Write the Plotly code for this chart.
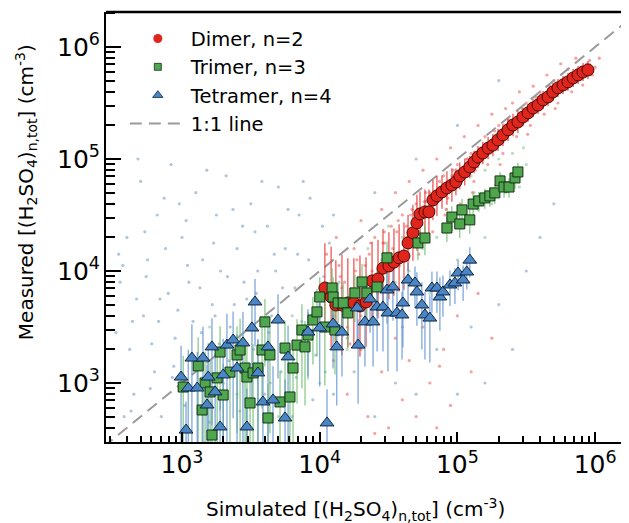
import numpy as np
import plotly.graph_objects as go

# ---------------- data ----------------
dimer_x = [1.09e4,1.21e4,1.31e4,1.45e4,1.60e4,1.77e4,1.96e4,2.17e4,2.40e4,2.65e4,
           2.88e4,3.18e4,3.46e4,3.77e4,4.09e4,4.38e4,4.75e4,5.08e4,5.35e4,5.81e4,
           6.21e4,6.64e4,7.10e4,7.73e4,8.39e4,9.12e4,9.75e4,1.04e5,1.13e5,1.23e5,
           1.32e5,1.41e5,1.53e5,1.67e5,1.81e5,1.97e5,2.14e5,2.33e5,2.53e5,2.75e5,
           2.99e5,3.26e5,3.54e5,3.85e5,4.19e5,4.55e5,4.94e5,5.37e5,5.85e5,6.35e5,
           6.92e5,7.52e5,8.17e5,8.87e5]
dimer_y = [7.05e3,5.86e3,4.97e3,4.97e3,5.18e3,5.18e3,4.87e3,5.29e3,8.15e3,8.49e3,
           1.06e4,1.11e4,1.20e4,1.31e4,1.36e4,1.78e4,2.19e4,2.69e4,3.23e4,3.37e4,
           3.37e4,4.31e4,4.68e4,5.08e4,5.51e4,5.86e4,6.24e4,7.06e4,7.66e4,8.49e4,
           9.40e4,1.04e5,1.13e5,1.25e5,1.33e5,1.48e5,1.64e5,1.82e5,2.01e5,2.14e5,
           2.37e5,2.58e5,2.85e5,3.03e5,3.37e5,3.58e5,3.97e5,4.31e5,4.58e5,4.88e5,
           5.29e5,5.62e5,5.98e5,6.24e5]
# uncertainty of dimer points, in decades (symmetric in log space)
dimer_err_dex = [0.40,0.45,0.40,0.45,0.40,0.40,0.45,0.40,0.35,0.35,
                 0.35,0.30,0.30,0.30,0.30,0.25,0.25,0.25,0.20,0.20,
                 0.20,0.18,0.18,0.15,0.15,0.15,0.12,0.12,0.12,0.10,
                 0.10,0.10,0.10,0.10,0.10,0.10,0.10,0.10,0.10,0.10,
                 0.08,0.08,0.08,0.08,0.08,0.08,0.08,0.08,0.08,0.08,
                 0.08,0.08,0.08,0.08]

trimer_x = [1.02e3,1.31e3,1.40e3,1.47e3,1.60e3,1.65e3,1.80e3,1.89e3,1.99e3,2.23e3,
            2.51e3,2.64e3,2.87e3,2.96e3,3.12e3,3.28e3,3.56e3,3.81e3,4.00e3,4.21e3,
            4.35e3,5.15e3,5.60e3,6.08e3,6.40e3,6.84e3,7.43e3,7.82e3,8.22e3,8.93e3,
            9.55e3,1.00e4,1.09e4,1.23e4,1.25e4,1.29e4,1.36e4,1.48e4,1.60e4,1.80e4,
            2.03e4,2.20e4,2.61e4,3.08e4,5.17e4,5.81e4,8.39e4,9.12e4,1.04e5,1.08e5,
            1.23e5,1.30e5,1.43e5,1.58e5,1.72e5,1.87e5,2.04e5,2.18e5,2.37e5,2.62e5,
            2.75e5]
trimer_y = [920,1.42e3,574,1.00e3,832,343,1.11e3,1.89e3,781,1.25e3,
            1.78e3,1.97e3,1.36e3,1.13e3,663,1.23e3,1.36e3,1.97e3,3.51e3,487,
            1.78e3,677,2.05e3,750,1.36e3,2.18e3,2.97e3,2.10e3,2.68e3,3.65e3,
            4.31e3,5.86e3,3.16e3,7.05e3,5.86e3,2.97e3,5.18e3,5.18e3,4.22e3,6.37e3,
            7.98e3,6.37e3,7.20e3,1.31e4,1.78e4,1.97e4,2.42e4,3.03e4,2.63e4,3.51e4,
            2.86e4,3.96e4,4.22e4,4.49e4,4.68e4,4.98e4,6.37e4,5.62e4,5.62e4,6.77e4,
            7.66e4]
# relative (linear) uncertainty of trimer points
trimer_rel_err = [0.9,0.8,1.0,0.9,0.9,1.0,0.8,0.7,0.9,0.8,
                  0.8,0.9,0.8,0.9,1.0,0.8,0.8,0.7,0.6,1.0,
                  0.8,0.9,0.7,0.9,0.8,0.7,0.7,0.7,0.6,0.6,
                  0.6,0.5,0.7,0.5,0.5,0.6,0.5,0.5,0.5,0.45,
                  0.45,0.45,0.45,0.4,0.3,0.3,0.25,0.25,0.25,0.25,
                  0.25,0.25,0.2,0.2,0.2,0.2,0.2,0.2,0.2,0.2,
                  0.2]

tetramer_x = [984,1.07e3,1.11e3,1.18e3,1.29e3,1.42e3,1.52e3,1.55e3,1.65e3,1.74e3,
              1.89e3,1.99e3,2.12e3,2.35e3,2.51e3,2.77e3,2.96e3,3.22e3,3.39e3,3.56e3,
              3.87e3,4.21e3,4.58e3,4.98e3,5.60e3,5.89e3,8.22e3,1.00e4,1.13e4,1.25e4,
              1.33e4,1.45e4,1.87e4,1.90e4,2.13e4,2.32e4,2.44e4,2.61e4,2.88e4,3.08e4,
              3.13e4,3.40e4,3.64e4,3.96e4,4.02e4,4.38e4,4.92e4,5.08e4,5.52e4,5.81e4,
              6.31e4,6.53e4,7.10e4,7.46e4,7.85e4,8.83e4,9.59e4,1.01e5,1.10e5,1.17e5,
              1.23e5]
tetramer_y = [1.13e3,380,902,1.67e3,902,1.67e3,636,1.13e3,2.10e3,832,
              405,1.18e3,2.18e3,2.42e3,1.36e3,2.28e3,405,3.10e3,5.29e3,1.23e3,
              677,2.10e3,705,3.65e3,487,1.71e3,2.85e3,3.10e3,440,3.37e3,
              2.10e3,2.85e3,4.68e3,2.18e3,3.51e3,5.62e3,3.51e3,4.77e3,4.77e3,6.77e3,
              4.22e3,7.20e3,4.22e3,4.05e3,5.18e3,8.31e3,7.82e3,6.50e3,4.97e3,4.05e3,
              3.80e3,7.05e3,7.05e3,5.86e3,6.50e3,7.50e3,7.82e3,9.60e3,8.31e3,9.80e3,
              1.25e4]
tetramer_rel_err = [0.9,0.8,1.2,1.0,1.1,0.9,1.3,1.0,0.8,1.2,
                    1.0,1.1,0.9,0.8,1.0,0.9,1.2,0.8,0.6,1.0,
                    1.1,0.9,1.0,0.7,1.2,0.9,0.6,0.7,1.0,0.6,
                    0.7,0.6,0.5,0.7,0.6,0.5,0.6,0.6,0.6,0.5,
                    0.7,0.5,0.7,0.6,0.6,0.4,0.4,0.5,0.6,0.6,
                    0.6,0.4,0.4,0.5,0.4,0.35,0.35,0.3,0.35,0.3,
                    0.3]

one_to_one = [1e2, 1e7]

# faint raw observations (log10 of concentration)
raw_dimer_log_x = [4.05,4.10,4.12,4.18,4.20,4.25,4.28,4.30,4.35,4.38,4.40,4.42,4.45,4.48,4.50,
                   4.52,4.55,4.58,4.60,4.62,4.65,4.68,4.70,4.72,4.75,4.78,4.80,4.82,4.85,4.88,
                   4.90,4.92,4.95,4.98,5.00,5.02,5.05,5.08,5.10,5.12,5.15,5.18,5.20,5.22,5.25,
                   5.28,5.30,5.33,5.35,5.38,5.40,5.43,5.45,5.48,5.50,5.53,5.55,5.58,5.60,5.63,
                   5.65,5.68,5.70,5.73,5.75,5.78,5.80,5.83,5.86,5.90,5.94,5.98,
                   4.10,4.20,4.30,4.35,4.45,4.50,4.55,4.60,4.65,4.70,4.75,4.80,4.90,4.95,5.00,
                   5.10,5.15,5.25,4.40,4.85,4.15,4.33,4.47,4.63,4.77,4.93,5.07,5.23,5.37,5.52,
                   5.67,5.82,4.22,4.57,4.87,
                   4.07,4.14,4.23,4.27,4.32,4.37,4.43,4.47,4.53,4.57,4.63,4.67,4.73,4.77,4.83,
                   4.87,4.93,4.97,5.03,5.07,5.13,5.17,5.23,5.27,5.33,5.37,5.43,5.47,5.53,5.57,
                   5.63,5.67,5.73,5.77,5.83,5.87,5.92,5.96,6.00,6.03,
                   4.16,4.26,4.36,4.46,4.56,4.66,4.76,4.86,4.96,5.06,5.16,5.26,5.36,5.46,5.56,
                   5.66,5.76,5.86,5.96,4.31,4.51,4.71,4.91,5.11,5.31,5.51,5.71,5.91]
raw_dimer_log_y = [4.15,3.60,4.30,3.90,3.50,4.20,3.75,4.45,3.55,4.00,4.30,3.80,4.55,4.15,3.85,
                   4.40,4.70,4.05,4.50,4.25,4.80,4.35,4.60,4.15,4.90,4.50,4.70,4.35,5.00,4.65,
                   4.85,4.55,5.10,4.75,4.95,4.60,5.20,4.85,5.05,4.80,5.30,5.00,5.20,4.95,5.40,
                   5.15,5.30,5.05,5.45,5.25,5.50,5.20,5.60,5.35,5.50,5.30,5.65,5.45,5.60,5.40,
                   5.75,5.55,5.70,5.50,5.85,5.65,5.80,5.60,5.90,5.72,5.85,5.75,
                   3.20,2.90,3.30,2.70,3.10,2.60,3.40,2.85,3.20,2.70,3.50,3.00,3.30,2.80,3.60,
                   3.10,3.80,3.40,2.55,2.60,3.95,4.05,4.25,4.40,4.62,4.80,5.00,5.10,5.32,5.40,
                   5.62,5.70,3.35,3.65,3.15,
                   3.75,4.05,3.65,4.10,3.90,4.25,4.00,4.35,4.20,4.45,4.30,4.55,4.45,4.70,4.55,
                   4.80,4.65,4.90,4.80,5.00,4.90,5.10,5.05,5.25,5.15,5.35,5.30,5.45,5.40,5.55,
                   5.50,5.65,5.60,5.72,5.70,5.80,5.78,5.88,5.82,5.90,
                   3.85,4.00,4.15,4.25,4.35,4.50,4.62,4.72,4.85,4.95,5.08,5.18,5.28,5.38,5.48,
                   5.58,5.68,5.76,5.84,3.70,4.05,4.28,4.50,4.70,4.95,5.22,5.45,5.66]
raw_trimer_log_x = [4.30,4.35,4.40,4.45,4.50,4.55,4.60,4.65,4.70,4.75,4.80,4.85,4.90,4.95,5.00,
                    5.05,5.10,5.15,5.20,5.25,5.30,5.35,5.40,5.45,5.50,4.60,4.80,5.00,5.20,4.20,
                    3.60,3.80,3.40,3.70,4.00,3.20,4.52,4.72,4.92,5.12,5.32,5.48]
raw_trimer_log_y = [3.90,4.20,3.70,4.10,4.40,3.90,4.30,4.00,4.50,4.20,4.60,4.30,4.70,4.40,4.75,
                    4.45,4.85,4.55,4.90,4.60,5.00,4.70,5.05,4.75,4.95,3.60,3.80,4.10,4.30,3.30,
                    3.20,3.60,2.90,2.70,3.00,3.50,4.15,4.35,4.55,4.70,4.85,5.10]
raw_tetramer_log_x = [2.50,2.55,2.60,2.62,2.65,2.70,2.72,2.75,2.80,2.82,2.85,2.90,2.92,2.95,3.00,
                      3.02,3.05,3.10,3.12,3.15,3.20,3.22,3.25,3.30,3.32,3.35,3.40,3.42,3.45,3.50,
                      3.52,3.55,3.60,3.62,3.65,3.70,3.72,3.75,3.80,3.82,3.85,3.90,3.92,3.95,4.00,
                      4.02,2.58,2.68,2.88,3.08,3.28,3.48,3.68,3.88,2.78,2.98,3.18,3.38,3.58,3.78,
                      4.10,4.25,4.40,4.55,4.70,4.85,5.00,5.10,5.20,5.30,5.40,5.50,5.60,5.70,4.30,
                      4.60,5.00,5.30,4.70,4.40,4.10,
                      2.52,2.57,2.63,2.67,2.73,2.77,2.83,2.87,2.93,2.97,3.03,3.07,3.13,3.17,3.23,
                      3.27,3.33,3.37,3.43,3.47,3.53,3.57,3.63,3.67,3.73,3.77,3.83,3.87,3.93,3.97,
                      4.03,4.07,2.54,2.64,2.74,2.84,2.94,3.04,3.14,3.24,3.34,3.44,3.54,3.64,3.74,
                      3.84,3.94,4.04,4.14,4.20]
raw_tetramer_log_y = [4.60,3.90,4.30,3.30,2.90,4.80,3.60,4.10,3.10,4.50,2.70,3.80,4.95,3.40,4.30,
                      2.80,3.90,4.70,3.20,4.10,2.65,3.70,4.50,3.00,4.85,3.50,4.20,2.75,3.90,4.60,
                      3.30,4.00,2.90,4.40,3.60,4.75,3.10,4.20,2.70,3.85,4.50,3.40,4.10,2.85,3.70,
                      4.40,2.70,5.00,4.20,3.55,4.00,2.60,4.00,4.80,3.35,4.60,4.90,3.70,4.80,3.30,
                      2.90,3.10,2.70,3.00,2.90,3.30,2.90,3.50,3.00,3.70,3.30,4.00,4.30,4.60,3.60,
                      3.50,5.30,5.70,5.00,4.70,4.50,
                      3.45,4.05,2.75,3.75,4.35,2.95,3.55,4.65,3.05,3.65,4.45,3.25,3.85,2.72,4.25,
                      3.35,3.95,4.55,3.15,3.75,4.35,2.85,3.45,4.15,3.85,4.55,3.05,3.55,4.65,3.25,
                      3.95,4.25,4.15,3.55,3.95,3.75,3.15,4.05,3.45,3.60,3.20,4.40,3.80,3.00,3.55,
                      4.15,3.60,3.10,3.90,3.40]

# ---------------- styling ----------------
FONT = "DejaVu Sans, Verdana, sans-serif"
RED, RED_EDGE, RED_BAR, RED_RAW = "#e0261c", "#4a0804", "rgba(232,60,55,0.85)", "rgba(238,100,100,0.6)"
GRN, GRN_EDGE, GRN_BAR, GRN_RAW = "#4fa64f", "#123312", "rgba(110,190,110,0.8)", "rgba(140,200,150,0.6)"
BLU, BLU_EDGE, BLU_BAR, BLU_RAW = "#4a85c4", "#0d2440", "rgba(95,145,210,0.8)", "rgba(125,160,195,0.6)"

# the page adds an 8 px body margin: the figure is sized so the plot lands where the reference has it
PAGE_PAD = 8


def log_sym(vals, dex):
    v = np.array(vals)
    d = np.array(dex)
    return v * (10 ** d - 1), v * (1 - 10 ** (-d))


def lin_sym(vals, rel):
    v = np.array(vals)
    s = v * np.array(rel)
    return s, np.minimum(s, v * 0.995)


fig = go.Figure()

# raw clouds
for lx, ly, col in [(raw_tetramer_log_x, raw_tetramer_log_y, BLU_RAW),
                    (raw_trimer_log_x, raw_trimer_log_y, GRN_RAW),
                    (raw_dimer_log_x, raw_dimer_log_y, RED_RAW)]:
    fig.add_trace(go.Scatter(x=10 ** np.array(lx), y=10 ** np.array(ly), mode="markers",
                             marker=dict(size=3.2, color=col), showlegend=False,
                             hoverinfo="skip"))

# 1:1 line
fig.add_trace(go.Scatter(x=one_to_one, y=one_to_one, mode="lines",
                         line=dict(color="#9a9a9a", width=2, dash="12px,7px"),
                         showlegend=False, hoverinfo="skip"))

# error bars (drawn underneath all markers)
for xs, ys, (up, dn), col in [
        (dimer_x, dimer_y, log_sym(dimer_y, dimer_err_dex), RED_BAR),
        (trimer_x, trimer_y, lin_sym(trimer_y, trimer_rel_err), GRN_BAR),
        (tetramer_x, tetramer_y, lin_sym(tetramer_y, tetramer_rel_err), BLU_BAR)]:
    fig.add_trace(go.Scatter(x=xs, y=ys, mode="markers",
                             marker=dict(size=2, color="rgba(0,0,0,0)"),
                             error_y=dict(type="data", symmetric=False, array=up, arrayminus=dn,
                                          color=col, thickness=1.3, width=0),
                             showlegend=False, hoverinfo="skip"))

# markers
fig.add_trace(go.Scatter(x=dimer_x, y=dimer_y, mode="markers", showlegend=False,
                         marker=dict(symbol="circle", size=12, color=RED,
                                     line=dict(color=RED_EDGE, width=1))))
fig.add_trace(go.Scatter(x=trimer_x, y=trimer_y, mode="markers", showlegend=False,
                         marker=dict(symbol="square", size=10, color=GRN,
                                     line=dict(color=GRN_EDGE, width=1))))
fig.add_trace(go.Scatter(x=tetramer_x, y=tetramer_y, mode="markers", showlegend=False,
                         marker=dict(symbol="triangle-up", size=12, color=BLU,
                                     line=dict(color=BLU_EDGE, width=1))))

# legend entries
fig.add_trace(go.Scatter(x=[None], y=[None], mode="markers", name="Dimer, n=2",
                         marker=dict(symbol="circle", size=9, color=RED, line=dict(color=RED, width=0))))
fig.add_trace(go.Scatter(x=[None], y=[None], mode="markers", name="Trimer, n=3",
                         marker=dict(symbol="square", size=7, color=GRN, line=dict(color=GRN_EDGE, width=0.8))))
fig.add_trace(go.Scatter(x=[None], y=[None], mode="markers", name="Tetramer, n=4",
                         marker=dict(symbol="triangle-up", size=9, color=BLU, line=dict(color=BLU_EDGE, width=0.8))))
fig.add_trace(go.Scatter(x=[None], y=[None], mode="lines", name="1:1 line",
                         line=dict(color="#9a9a9a", width=2, dash="12px,7px")))

axis_common = dict(type="log", dtick=1, exponentformat="power", showexponent="all",
                   showline=True, linecolor="black", linewidth=2, ticks="inside",
                   tickcolor="black", showgrid=False, zeroline=False,
                   tickfont=dict(family=FONT, size=20, color="black"))

fig.update_layout(
    width=629 - PAGE_PAD, height=523 - PAGE_PAD,
    margin=dict(l=106 - PAGE_PAD, r=0, t=12 - PAGE_PAD, b=81, pad=0),
    paper_bgcolor="white", plot_bgcolor="white",
    font=dict(family=FONT, size=20, color="black"),
    xaxis=dict(range=[2.448, 6.246], ticklen=10, tickwidth=2,
               minor=dict(ticks="inside", ticklen=6, tickwidth=1.5, tickcolor="black", dtick="D1"),
               **axis_common),
    yaxis=dict(range=[2.473, 6.3125], ticklen=15, tickwidth=2,
               minor=dict(ticks="inside", ticklen=9, tickwidth=1.5, tickcolor="black", dtick="D1"),
               **axis_common),
    legend=dict(x=0.036, y=0.983, xanchor="left", yanchor="top", bgcolor="rgba(0,0,0,0)",
                font=dict(family=FONT, size=19.5, color="black"), tracegroupgap=0,
                itemwidth=56),
    shapes=[dict(type="line", xref="paper", yref="paper", x0=0, x1=1, y0=1, y1=1,
                 line=dict(color="black", width=2.5))],
    annotations=[
        dict(text="Simulated [(H<sub>2</sub>SO<sub>4</sub>)<sub>n,tot</sub>] (cm<sup>-3</sup>)",
             xref="paper", yref="paper", x=0.478, y=-0.158, xanchor="center", yanchor="middle",
             showarrow=False, font=dict(family=FONT, size=20, color="black")),
        dict(text="Measured [(H<sub>2</sub>SO<sub>4</sub>)<sub>n,tot</sub>] (cm<sup>-3</sup>)",
             xref="paper", yref="paper", x=-0.153, y=0.581, xanchor="center", yanchor="middle",
             textangle=-90, showarrow=False, font=dict(family=FONT, size=20, color="black")),
    ],
)

fig.write_html("out.html")
